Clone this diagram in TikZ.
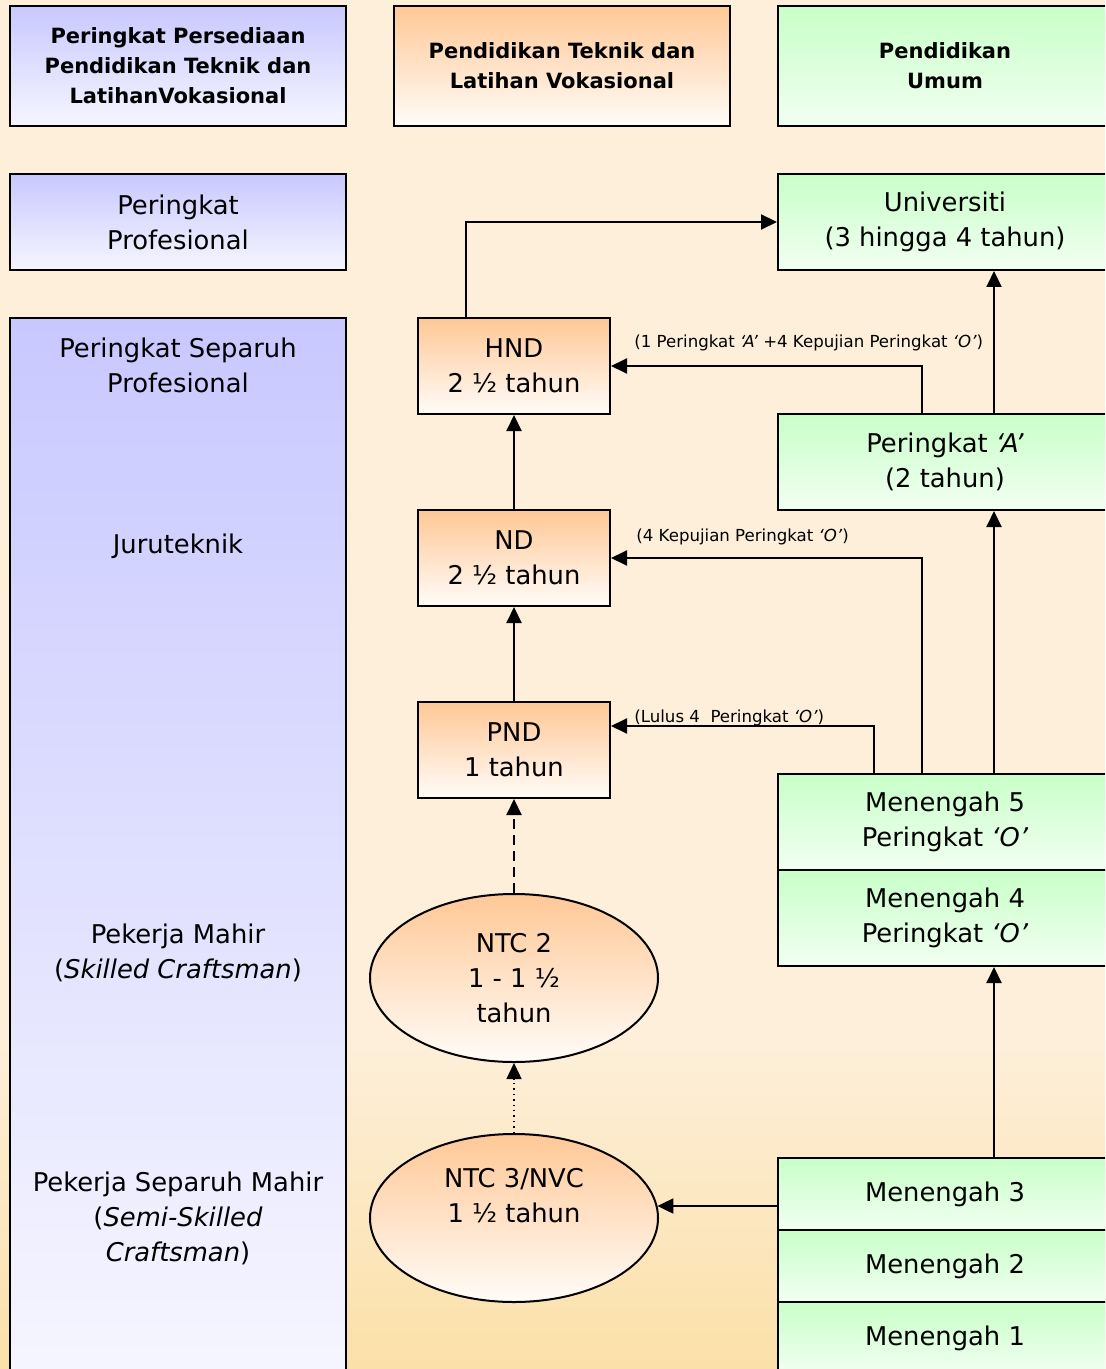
\documentclass[tikz,border=0pt]{standalone}
\usepackage{fontspec}
\setmainfont{DejaVu Sans}
\usetikzlibrary{shapes.geometric,arrows.meta}
\definecolor{bg}{RGB}{253,239,218}
\definecolor{bgbot}{RGB}{251,224,168}
\definecolor{blueT}{RGB}{200,200,255}
\definecolor{blueB}{RGB}{246,246,255}
\definecolor{orT}{RGB}{255,200,150}
\definecolor{orB}{RGB}{255,252,248}
\definecolor{grT}{RGB}{200,255,200}
\definecolor{grB}{RGB}{242,255,242}
\tikzset{
  base/.style={draw=black, line width=1pt, align=center, inner sep=0pt},
  bluebox/.style={base, top color=blueT, bottom color=blueB},
  orbox/.style={base, top color=orT, bottom color=orB},
  grbox/.style={base, top color=grT, bottom color=grB},
  orell/.style={base, ellipse, top color=orT, bottom color=orB, minimum width=144pt, minimum height=84pt},
  hdr/.style={font=\fontsize{10.5}{15}\selectfont\bfseries},
  txt/.style={align=center, font=\fontsize{12.9}{17.5}\selectfont},
  lbl/.style={font=\fontsize{8.3}{10}\selectfont, inner sep=0pt},
  arr/.style={line width=1pt, -{Triangle[length=8pt,width=7.5pt]}},
}
\begin{document}
\begin{tikzpicture}[x=0.5pt,y=-0.5pt]
\useasboundingbox (0,0) rectangle (1105,1369);
\clip (0,0) rectangle (1105,1369);
\fill[bg] (0,0) rectangle (1105,1369);
\shade[top color=bg, bottom color=bgbot] (0,1040) rectangle (1105,1369);

% headers
\node[bluebox, hdr, minimum width=168pt, minimum height=60pt] (h1) at (178,66) {Peringkat Persediaan\\Pendidikan Teknik dan\\LatihanVokasional};
\node[orbox, hdr, minimum width=168pt, minimum height=60pt] (h2) at (562,66) {Pendidikan Teknik dan\\Latihan Vokasional};
\node[grbox, hdr, minimum width=167pt, minimum height=60pt] (h3) at (945,66) {Pendidikan\\Umum};

% left column
\node[bluebox, txt, minimum width=168pt, minimum height=48pt] (prof) at (178,222) {Peringkat\\Profesional};
\node[bluebox, minimum width=168pt, minimum height=531pt] (col) at (178,849) {};
\node[txt] (l1) at (178,365.5) {Peringkat Separuh\\Profesional};
\node[txt] (l2) at (178,546) {Juruteknik};
\node[txt] (l3) at (178,952.5) {Pekerja Mahir\\(\textit{Skilled Craftsman})};
\node[txt] (l4) at (178,1218) {Pekerja Separuh Mahir\\(\textit{Semi-Skilled}\\\textit{Craftsman})};

% middle column
\node[orbox, txt, minimum width=96pt, minimum height=48pt] (hnd) at (514,366) {HND\\2 ½ tahun};
\node[orbox, txt, minimum width=96pt, minimum height=48pt] (nd) at (514,558) {ND\\2 ½ tahun};
\node[orbox, txt, minimum width=96pt, minimum height=48pt] (pnd) at (514,750) {PND\\1 tahun};
\node[orell, txt] (ntc2) at (514,978) {NTC 2\\1 - 1 ½\\tahun};
\node[orell, txt] (ntc3) at (514,1218) {NTC 3/NVC\\1 ½ tahun\\\strut};

% right column
\node[grbox, txt, minimum width=167pt, minimum height=48pt] (univ) at (945,222) {Universiti\\(3 hingga 4 tahun)};
\node[grbox, txt, minimum width=167pt, minimum height=48pt] (pa) at (945,462) {Peringkat \textit{‘A’}\\(2 tahun)};
\node[grbox, txt, minimum width=167pt, minimum height=48pt] (m5) at (945,822) {Menengah 5\\Peringkat \textit{‘O’}};
\node[grbox, txt, minimum width=167pt, minimum height=48pt] (m4) at (945,918) {Menengah 4\\Peringkat \textit{‘O’}};
\node[grbox, txt, minimum width=167pt, minimum height=36pt] (m3) at (945,1194) {Menengah 3};
\node[grbox, txt, minimum width=167pt, minimum height=36pt] (m2) at (945,1266) {Menengah 2};
\node[grbox, txt, minimum width=167pt, minimum height=36pt] (m1) at (945,1338) {Menengah 1};

% connectors
\draw[arr] ([xshift=-24pt]hnd.north) |- (univ.west);
\draw[arr] ([xshift=24.5pt]pa.north) -- ([xshift=24.5pt]univ.south);
\draw[arr] ([xshift=-11.5pt]pa.north) |- (hnd.east);
\draw[arr] (nd) -- (hnd);
\draw[arr] (pnd) -- (nd);
\draw[arr] ([xshift=-11.5pt]m5.north) |- (nd.east);
\draw[arr] ([xshift=-35.5pt]m5.north) |- ([yshift=12pt]pnd.east);
\draw[arr] ([xshift=24.5pt]m5.north) -- ([xshift=24.5pt]pa.south);
\draw[arr, dash pattern=on 5pt off 3pt] (ntc2.north) -- (pnd.south);
\draw[arr, line width=0.7pt, dotted] (ntc3.north) -- (ntc2.south);
\draw[arr] ([yshift=-6pt]m3.west) -- ([yshift=6pt,xshift=-0.8pt]ntc3.east);
\draw[arr] ([xshift=24.5pt]m3.north) -- ([xshift=24.5pt]m4.south);

% labels
\node[lbl, anchor=base west] (t1) at (634,348) {(1 Peringkat \textit{‘A’} +4 Kepujian Peringkat \textit{‘O’})};
\node[lbl, anchor=base west] (t2) at (636,541) {(4 Kepujian Peringkat \textit{‘O’})};
\node[lbl, anchor=base west] (t3) at (634,722) {(Lulus 4\ \ Peringkat \textit{‘O’})};
\end{tikzpicture}
\end{document}
